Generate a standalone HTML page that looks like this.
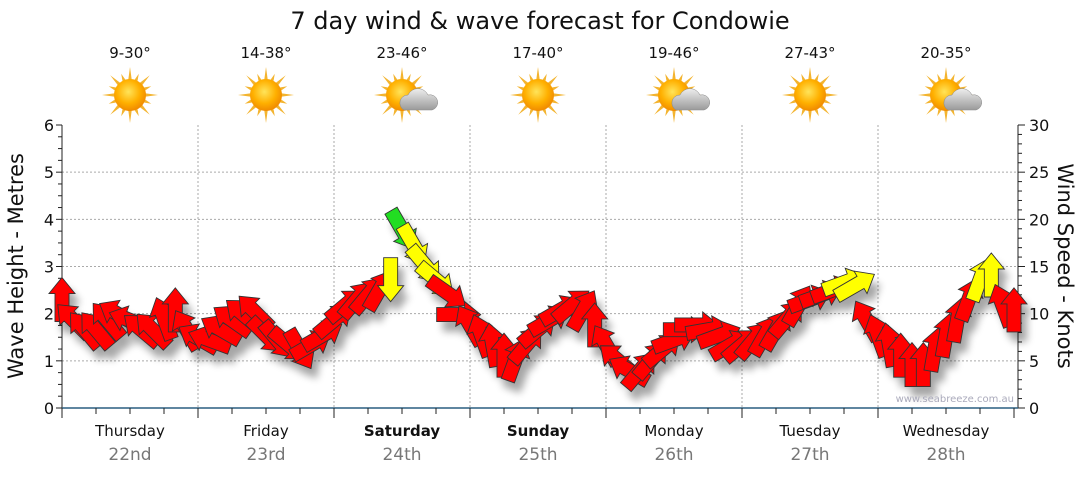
<!DOCTYPE html>
<html><head><meta charset="utf-8"><style>
body{margin:0;background:#fff;width:1080px;height:475px;overflow:hidden;font-family:"Liberation Sans",sans-serif}
svg text{font-family:"DejaVu Sans","Liberation Sans",sans-serif}
</style></head><body>
<svg id="chart" width="1080" height="475" viewBox="0 0 1080 475" xmlns="http://www.w3.org/2000/svg">
<defs>
<filter id="sh" x="-50%" y="-50%" width="200%" height="200%"><feGaussianBlur stdDeviation="4"/></filter>
<radialGradient id="sun" cx="45%" cy="40%" r="60%"><stop offset="0" stop-color="#ffe45a"/><stop offset="0.6" stop-color="#ffb000"/><stop offset="1" stop-color="#f08a00"/></radialGradient>
<linearGradient id="cloud" x1="0" y1="0" x2="0" y2="1"><stop offset="0" stop-color="#eee"/><stop offset="1" stop-color="#9a9a9a"/></linearGradient>
</defs>
<text x="540" y="29" text-anchor="middle" font-size="24" fill="#111">7 day wind &amp; wave forecast for Condowie</text>
<g id="grid"></g>
<g id="axes"></g>
<g id="shadows" filter="url(#sh)" opacity="0.35"></g>
<g id="arrows"></g>
<g id="toplayer"></g>
<text transform="translate(23,266) rotate(-90)" text-anchor="middle" font-size="21" fill="#111">Wave Height - Metres</text>
<text transform="translate(1058,266) rotate(90)" text-anchor="middle" font-size="21" fill="#111">Wind Speed - Knots</text>
<text x="1014" y="402" text-anchor="end" font-size="10" fill="#aab">www.seabreeze.com.au</text>
</svg>
<script>
const days=["Thursday","Friday","Saturday","Sunday","Monday","Tuesday","Wednesday"];
const dates=["22nd","23rd","24th","25th","26th","27th","28th"];
const temps=["9-30°","14-38°","23-46°","17-40°","19-46°","27-43°","20-35°"];
const cloudy=[0,0,1,0,1,0,1];
const boldDays=[0,0,1,1,0,0,0];
const hours=[];for(let h=0;h<=168;h+=2)hours.push(h);
const windKnots=[11.5,9.3,8.3,8.3,9.3,9.9,9.3,8.3,8.3,9.5,10.4,8.3,
7.4,7.2,8.3,9.3,9.9,10.2,7.7,7.2,6.7,6.2,6.7,7.7,
9.3,10.9,11.5,12,12.5,13.6,18.9,17.3,15.2,13.6,12.2,9.9,
8.8,7.7,6.7,5.6,5.1,6.7,8.3,9.3,10.4,10.9,10.4,8.8,
6.7,5.1,4.0,4.0,5.1,6.2,7.2,8.3,8.8,8.3,7.7,6.7,
6.7,7.2,7.7,8.3,9.5,10.9,11.5,12,12.5,13.3,13.0,9.3,
7.7,6.7,5.6,4.6,4.6,6.2,7.7,9.3,11.5,13.6,14.1,10.9,10.4];
const windDir=[0,-45,-40,-40,-40,-60,-70,-50,-45,-20,0,-30,
-60,-70,-60,-55,-50,-45,135,140,130,150,60,60,
50,50,40,40,30,180,150,150,140,130,125,90,
-30,-20,-10,0,20,40,50,60,60,50,30,0,
-30,-50,-60,40,40,50,70,90,90,80,70,60,
50,40,30,30,40,30,70,70,70,70,60,-30,
-20,-10,0,0,0,10,10,10,20,20,0,-20,0];
const windColor=windKnots.map(k=>k>=18?"#22dd22":(k>=12.8?"#ffff00":"#ff0000"));
const X0=62,X1=1014,Y0=408,Y1=125;
const xs=h=>X0+(X1-X0)*h/168;
const yKn=k=>Y0-(Y0-Y1)*k/30;
const yM=m=>Y0-(Y0-Y1)*m/6;
const NS="http://www.w3.org/2000/svg";
function mk(tag,attrs,parent,txt){const e=document.createElementNS(NS,tag);for(const k in attrs)e.setAttribute(k,attrs[k]);if(txt!=null)e.textContent=txt;parent.appendChild(e);return e;}
const gridLayer=document.getElementById('grid'),axesLayer=document.getElementById('axes'),topLayer=document.getElementById('toplayer');
for(let m=1;m<=5;m++){const l=mk('line',{x1:X0,x2:X1+4,y1:yM(m),y2:yM(m),stroke:'#aaa','stroke-dasharray':'2,2'},gridLayer);

}
for(let d=1;d<7;d++){const l=mk('line',{x1:xs(d*24),x2:xs(d*24),y1:Y1,y2:Y0,stroke:'#aaa','stroke-dasharray':'2,2'},gridLayer);

}
mk('line',{x1:X0,x2:X0,y1:Y1,y2:Y0,stroke:'#222'},axesLayer);
mk('line',{x1:X1+4,x2:X1+4,y1:Y1,y2:Y0,stroke:'#222'},axesLayer);
mk('line',{x1:X0,x2:X1+4,y1:Y0,y2:Y0,stroke:'#2a5f80','stroke-width':1.5},axesLayer);
for(let i=0;i<=24;i++){const y=yM(i/4);mk('line',{x1:X0-(i%4?4:6),x2:X0,y1:y,y2:y,stroke:'#222'},axesLayer);}
for(let m=0;m<=6;m++){const t=mk('text',{x:X0-8,y:yM(m)+6,'text-anchor':'end','font-size':16,fill:'#111'},axesLayer,String(m));

}
for(let k=0;k<=30;k++){const y=yKn(k);mk('line',{x1:X1+4,x2:X1+4+(k%5?4:7),y1:y,y2:y,stroke:'#222'},axesLayer);}
for(let k=0;k<=30;k+=5){const t=mk('text',{x:X1+15,y:yKn(k)+6,'font-size':16,fill:'#111'},axesLayer,String(k));

}
for(let h=0;h<=168;h+=6){mk('line',{x1:xs(h),x2:xs(h),y1:Y0,y2:Y0+(h%24?6:10),stroke:'#222'},axesLayer);}
days.forEach((d,i)=>{const cx=xs(i*24+12);
const t=mk('text',{x:cx,y:436,'text-anchor':'middle','font-size':15,fill:'#111','font-weight':boldDays[i]?'bold':'normal'},axesLayer,d);


const t2=mk('text',{x:cx,y:460,'text-anchor':'middle','font-size':17,fill:'#777'},axesLayer,dates[i]);


const t3=mk('text',{x:cx,y:58,'text-anchor':'middle','font-size':15,fill:'#111'},topLayer,temps[i]);


const g=mk('g',{transform:`translate(${cx},95)`},topLayer);


for(let a=0;a<16;a++){const r=a*Math.PI/8;const L=a%2?23:28;
mk('polygon',{points:`${Math.cos(r-0.12)*15},${Math.sin(r-0.12)*15} ${Math.cos(r)*L},${Math.sin(r)*L} ${Math.cos(r+0.12)*15},${Math.sin(r+0.12)*15}`,fill:'#f3b430'},g);}
mk('circle',{cx:0,cy:0,r:16,fill:'url(#sun)'},g);
if(cloudy[i]){mk('path',{d:'M2,15 a8,8 0 0,1 4,-15 a11,11 0 0,1 20,0 a7.5,7.5 0 0,1 4,15 z',fill:'url(#cloud)',stroke:'#888','stroke-width':0.5},g);}
});
const shadowLayer=document.getElementById('shadows'),arrowLayer=document.getElementById('arrows');
const shape="M0,-22 L13,-6 L7,-6 L7,22 L-7,22 L-7,-6 L-13,-6 Z";
hours.forEach((h,i)=>{const x=xs(h),y=yKn(windKnots[i]);
mk('path',{d:shape,transform:`translate(${x+6},${y+10}) rotate(${windDir[i]})`,fill:'#000'},shadowLayer);
const p=mk('path',{d:shape,transform:`translate(${x},${y}) rotate(${windDir[i]})`,fill:(h>=48&&h<=56)?'#ff0000':windColor[i],stroke:'#333','stroke-width':0.9},arrowLayer);


});
</script>
</body></html>
